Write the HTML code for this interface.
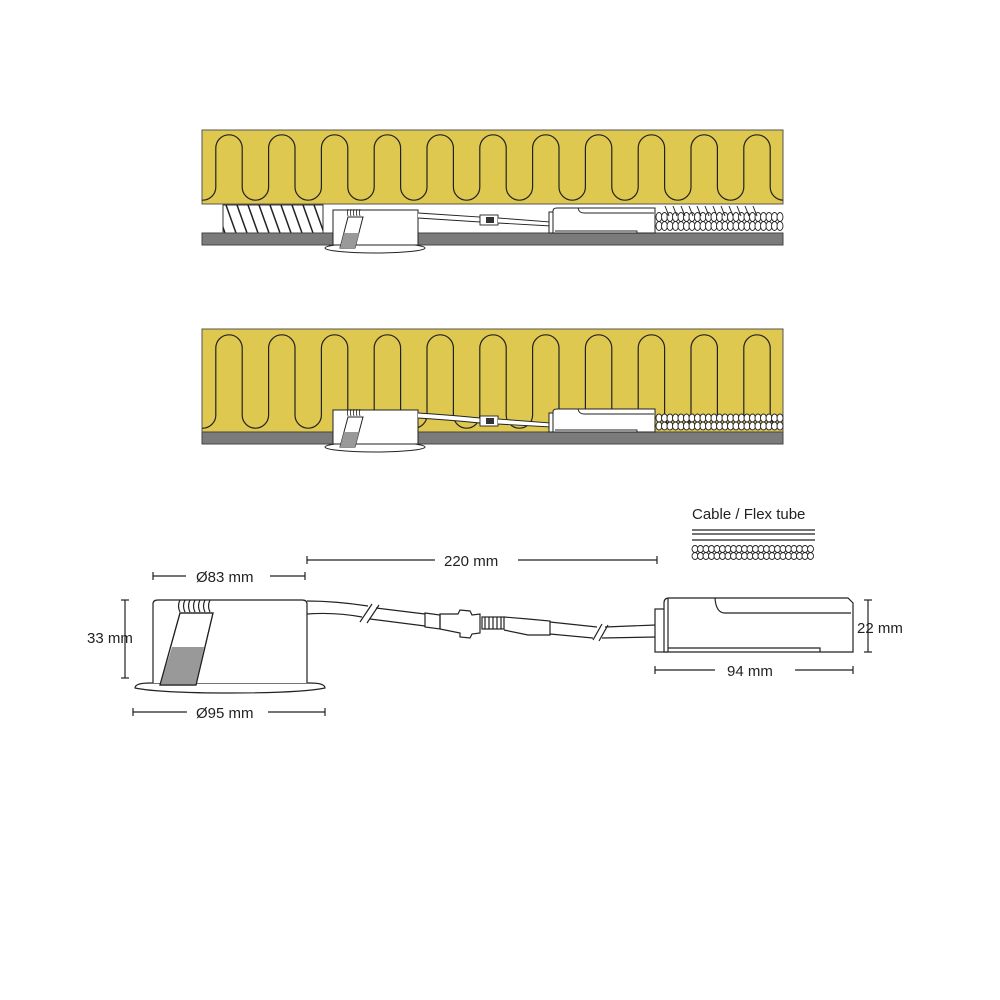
<!DOCTYPE html>
<html><head><meta charset="utf-8"><style>
html,body{margin:0;padding:0;background:#fff}
svg{display:block}
text{font-family:"Liberation Sans",sans-serif;font-size:15px;fill:#222}
</style></head><body>
<svg id="s" width="1000" height="1000" viewBox="0 0 1000 1000" xmlns="http://www.w3.org/2000/svg">
<defs>
<clipPath id="c1"><rect x="202" y="130" width="581" height="74"/></clipPath>
<clipPath id="c2"><rect x="202" y="329" width="581" height="103"/></clipPath>
<clipPath id="ch"><rect x="223" y="205" width="100" height="28"/></clipPath>
</defs>
<!-- Panel 1 -->
<rect x="202" y="130" width="581" height="74" fill="#dfc84f" stroke="#555" stroke-width="1"/>
<g id="w1" clip-path="url(#c1)"></g>
<rect x="223" y="205" width="100" height="28" fill="#fff" stroke="#333" stroke-width="1"/>
<g id="h1" clip-path="url(#ch)" stroke="#222" stroke-width="1.5"></g>
<rect x="202" y="233" width="581" height="12" fill="#7b7b7b" stroke="#444" stroke-width="1"/>
<g id="f1"></g>
<!-- Panel 2 -->
<rect x="202" y="329" width="581" height="103" fill="#dfc84f" stroke="#555" stroke-width="1"/>
<g id="w2" clip-path="url(#c2)"></g>
<rect x="202" y="432" width="581" height="12" fill="#7b7b7b" stroke="#444" stroke-width="1"/>
<g id="f2"></g>

<!-- Bottom detailed drawing -->
<g fill="none" stroke="#222" stroke-width="1.2">
<path d="M135,688 Q135,683 150,683 L310,683 Q325,683 325,688 Q300,693 230,693 Q160,693 135,688 Z" fill="#fff"/>
<path d="M153,683 L153,604 Q153,600 158,600 L302,600 Q307,600 307,604 L307,683" fill="#fff"/>
<path d="M180,600 q-3,6 0,12 M185,600 q-3,6 0,12 M190,600 q-3,6 0,12 M195,600 q-3,6 0,12 M200,600 q-3,6 0,12 M205,600 q-3,6 0,12 M210,600 q-3,6 0,12"/>
<path d="M180,613 L213,613 L196,685 L160,685 Z" fill="#fff"/>
<path d="M172,647 L204,647 L196,685 L160,685 Z" fill="#999" stroke="none"/>
<path d="M180,613 L213,613 L196,685 L160,685 Z"/>
<!-- cable -->
<path d="M307,601 Q335,601 368,606 M307,614 Q335,612 362,617 M376,608 L425,614 M370,619 L425,626"/>
<path d="M360,622 L372,604 M367,623 L379,605"/>
<path d="M425,613 L440,615 L440,629 L425,627 Z"/>
<path d="M440,614 L458,614 L460,610 L470,611 L472,615 L480,614 L480,633 L472,634 L470,638 L460,637 L460,633 L440,629 Z"/>
<rect x="482" y="617" width="22" height="12"/>
<path d="M485,617 v12 M489,617 v12 M493,617 v12 M497,617 v12 M501,617 v12"/>
<path d="M504,617 L528,619 L550,621 L550,635 L528,635 L504,630"/>
<path d="M550,622 L597,627 M550,634 L593,638 M605,627 L656,625 M602,638 L656,637"/>
<path d="M593,640 L602,624 M599,641 L608,625"/>
<!-- driver -->
<rect x="655" y="609" width="13" height="43" fill="#fff"/>
<path d="M664,652 L664,603 Q664,598 669,598 L848,598 L853,603 L853,652 Z" fill="#fff"/>
<path d="M668,598 L668,652 M715,598 Q716,613 725,613 L851,613 M668,648 L820,648 L820,652"/>
</g>
<!-- dimension lines -->
<g stroke="#222" stroke-width="1.2">
<line x1="125" y1="600" x2="125" y2="678"/><line x1="121" y1="600" x2="129" y2="600"/><line x1="121" y1="678" x2="129" y2="678"/>
<line x1="153" y1="576" x2="186" y2="576"/><line x1="270" y1="576" x2="305" y2="576"/><line x1="153" y1="572" x2="153" y2="580"/><line x1="305" y1="572" x2="305" y2="580"/>
<line x1="133" y1="712" x2="187" y2="712"/><line x1="268" y1="712" x2="325" y2="712"/><line x1="133" y1="708" x2="133" y2="716"/><line x1="325" y1="708" x2="325" y2="716"/>
<line x1="307" y1="560" x2="435" y2="560"/><line x1="518" y1="560" x2="657" y2="560"/><line x1="307" y1="556" x2="307" y2="564"/><line x1="657" y1="556" x2="657" y2="564"/>
<line x1="868" y1="600" x2="868" y2="652"/><line x1="864" y1="600" x2="872" y2="600"/><line x1="864" y1="652" x2="872" y2="652"/>
<line x1="655" y1="670" x2="715" y2="670"/><line x1="795" y1="670" x2="853" y2="670"/><line x1="655" y1="666" x2="655" y2="674"/><line x1="853" y1="666" x2="853" y2="674"/>
<line x1="692" y1="530" x2="815" y2="530"/><line x1="692" y1="534" x2="815" y2="534"/><line x1="692" y1="540" x2="815" y2="540"/>
</g>
<text x="87" y="643">33 mm</text>
<text x="196" y="582">Ø83 mm</text>
<text x="196" y="718">Ø95 mm</text>
<text x="444" y="566">220 mm</text>
<text x="857" y="633">22 mm</text>
<text x="727" y="676">94 mm</text>
<text x="692" y="519">Cable / Flex tube</text>
<g id="leg"></g>
</svg>
<script>
var NS="http://www.w3.org/2000/svg";
function el(p,t,a){var e=document.createElementNS(NS,t);for(var k in a)e.setAttribute(k,a[k]);p.appendChild(e);return e;}
function wave(g,yt,yb){var r=13.2,P=52.8,d="",x0=229-P;
 d="M"+(x0-r)+","+yt;
 for(var k=0;k<13;k++){var cx=x0+k*P;
  d+=" L"+(cx-r)+","+yt+" A"+r+","+r+" 0 0 1 "+(cx+r)+","+yt+" L"+(cx+r)+","+yb+" A"+r+","+r+" 0 0 0 "+(cx+3*r)+","+yb;}
 el(document.getElementById(g),"path",{d:d,fill:"none",stroke:"#222","stroke-width":"1.2"});}
wave("w1",148,187);wave("w2",348,415);
var h=document.getElementById("h1");
for(var x=215;x<340;x+=11)el(h,"line",{x1:x,y1:205,x2:x+10,y2:233});
function coils(g,x1,x2,y,hh){for(var x=x1;x<x2;x+=5.5){el(g,"ellipse",{cx:x,cy:y,rx:3,ry:hh/4,fill:"#fff",stroke:"#222","stroke-width":"0.9"});el(g,"ellipse",{cx:x,cy:y+hh/2,rx:3,ry:hh/4,fill:"#fff",stroke:"#222","stroke-width":"0.9"});}}
function fixture(id,top,bot,drvTop,drvBot,cableY,hatch){
 var g=document.getElementById(id);
 el(g,"ellipse",{cx:375,cy:bot+3,rx:50,ry:5,fill:"#fff",stroke:"#222","stroke-width":"1"});
 el(g,"path",{d:"M333,"+bot+" L333,"+(top+2)+" L418,"+(top+2)+" L418,"+bot+" Z",fill:"#fff",stroke:"#222","stroke-width":"1"});
 for(var i=0;i<5;i++)el(g,"path",{d:"M"+(348+i*3)+","+(top+1)+" q-1,4 0,7",fill:"none",stroke:"#222","stroke-width":"0.8"});
 el(g,"path",{d:"M348,"+(top+9)+" L363,"+(top+9)+" L355,"+(bot+3)+" L340,"+(bot+3)+" Z",fill:"#fff",stroke:"#222","stroke-width":"1"});
 el(g,"path",{d:"M344,"+(bot-12)+" L359,"+(bot-12)+" L355,"+(bot+3)+" L340,"+(bot+3)+" Z",fill:"#999"});
 el(g,"path",{d:"M418,"+(top+5)+" Q450,"+(top+7)+" 480,"+(cableY-2)+" L480,"+(cableY+3)+" Q450,"+(top+12)+" 418,"+(top+10),fill:"#fff",stroke:"#222","stroke-width":"0.9"});
 el(g,"rect",{x:480,y:cableY-4,width:18,height:10,fill:"#fff",stroke:"#222","stroke-width":"0.9"});
 el(g,"rect",{x:486,y:cableY-2,width:8,height:6,fill:"#333"});
 el(g,"path",{d:"M498,"+(cableY-1)+" L551,"+(cableY+3)+" L551,"+(cableY+7)+" L498,"+(cableY+4),fill:"#fff",stroke:"#222","stroke-width":"0.9"});
 coils(g,659,783,drvTop+9,drvBot-drvTop-7);
 if(hatch){for(var x=665;x<760;x+=8)el(g,"line",{x1:x,y1:drvTop-2,x2:x+4,y2:drvTop+8,stroke:"#222","stroke-width":"1"});}
 el(g,"rect",{x:549,y:drvTop+4,width:6,height:drvBot-drvTop-4,fill:"#fff",stroke:"#222","stroke-width":"1"});
 el(g,"path",{d:"M553,"+drvBot+" L553,"+(drvTop+3)+" Q553,"+drvTop+" 557,"+drvTop+" L655,"+drvTop+" L655,"+drvBot+" Z",fill:"#fff",stroke:"#222","stroke-width":"1"});
 el(g,"path",{d:"M578,"+drvTop+" Q579,"+(drvTop+5)+" 584,"+(drvTop+5)+" L654,"+(drvTop+5)+" M555,"+(drvBot-2)+" L637,"+(drvBot-2)+" L637,"+drvBot,fill:"none",stroke:"#222","stroke-width":"0.9"});
}
fixture("f1",208,245,208,233,219,true);
fixture("f2",408,444,409,432,420,false);
coils(document.getElementById("leg"),695,815,549,14);
</script>
</body></html>
